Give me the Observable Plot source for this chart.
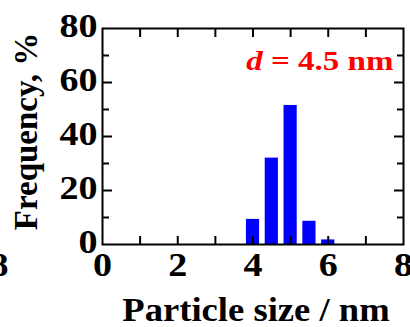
<!DOCTYPE html>
<html><head><meta charset="utf-8">
<script src="https://cdn.jsdelivr.net/npm/d3@7"></script>
<script src="https://cdn.jsdelivr.net/npm/@observablehq/plot@0.6"></script>
<style>body{margin:0;background:#fff}</style>
</head><body><div id="chart"></div>
<script>
const sizes = [4.0, 4.5, 5.0, 5.5, 6.0];
const freqs = [9.3, 32, 51.5, 8.6, 1.7];
const xTickLabels = [0, 2, 4, 6, 8];
const xMinorTicks = [1, 2, 3, 4, 5, 6, 7];
const yTickLabels = [0, 20, 40, 60, 80];
const yMajorTicks = [20, 40, 60];
const yMinorTicks = [10, 30, 50, 70];
const annotation = "d = 4.5 nm";
const xLabel = "Particle size / nm";
const yLabel = "Frequency, %";

const data = sizes.map((s, i) => ({size: s, freq: freqs[i]}));
const half = 0.175;
const font = "Liberation Serif, Times New Roman, serif";

const plot = Plot.plot({
  width: 410, height: 327,
  marginLeft: 102, marginRight: 7, marginTop: 28, marginBottom: 83,
  style: {fontFamily: font, fontWeight: "bold", fontSize: "34px", background: "#fff", overflow: "visible", color: "#000"},
  x: {domain: [0, 8]},
  y: {domain: [0, 80]},
  marks: [
    Plot.rectY(data, {x1: d => d.size - half, x2: d => d.size + half, y: "freq", fill: "#0000ff"}),
    // tick labels
    Plot.axisX(xTickLabels, {anchor: "bottom", tickSize: 0, tickPadding: 7, fill: "#000", label: null}),
    Plot.axisY(yTickLabels, {anchor: "left", tickSize: 0, tickPadding: 5, dy: -2, fill: "#000", label: null}),
    // inward ticks
    Plot.axisX(xMinorTicks, {anchor: "bottom", tickSize: -8, text: null, strokeWidth: 2, label: null}),
    Plot.axisX(xMinorTicks, {anchor: "top", tickSize: -8, text: null, strokeWidth: 2, label: null}),
    Plot.axisY(yMajorTicks, {anchor: "left", tickSize: -10, text: null, strokeWidth: 2, label: null}),
    Plot.axisY(yMinorTicks, {anchor: "left", tickSize: -7, text: null, strokeWidth: 2, label: null}),
    Plot.axisY(yMajorTicks, {anchor: "right", tickSize: -10, text: null, strokeWidth: 2, label: null}),
    Plot.axisY(yMinorTicks, {anchor: "right", tickSize: -7, text: null, strokeWidth: 2, label: null}),
    Plot.frame({stroke: "#000", strokeWidth: 2}),
    // axis titles
    Plot.text([xLabel], {frameAnchor: "bottom", text: d => d, dx: 3, dy: 53, textAnchor: "middle", lineAnchor: "top", fontSize: 33, fill: "#000"}),
    Plot.text([yLabel], {frameAnchor: "left", text: d => d, rotate: -90, dx: -89, dy: -5, textAnchor: "middle", lineAnchor: "top", fontSize: 33, fill: "#000"}),
    Plot.text([annotation], {frameAnchor: "top-right", text: d => d, dx: -10, dy: 22, textAnchor: "end", lineAnchor: "top", fontSize: 28, fill: "#ff0000"}),
    // neighbouring panel fragment at left edge
    Plot.text(["8"], {frameAnchor: "bottom-left", text: d => d, dx: -94, dy: 7, textAnchor: "end", lineAnchor: "top", fontSize: 34, fill: "#000"})
  ]
});
document.getElementById("chart").appendChild(plot);
const sel = d3.select(plot);

function stretch(node, s) {
  const t = node.getAttribute("transform") || "";
  node.setAttribute("transform", (t + ` scale(${s},1)`).trim());
}

sel.selectAll("text").each(function() {
  const txt = this.textContent;
  if (txt === yLabel) return;
  if (txt === annotation) {
    stretch(this, 1.18);
    const t = d3.select(this);
    t.text(null);
    t.append("tspan").attr("font-style", "italic").text("d");
    t.append("tspan").text(" = 4.5 nm");
  } else if (txt === xLabel) {
    stretch(this, 1.11);
  } else {
    stretch(this, 1.12);
  }
});
</script>
</body></html>
